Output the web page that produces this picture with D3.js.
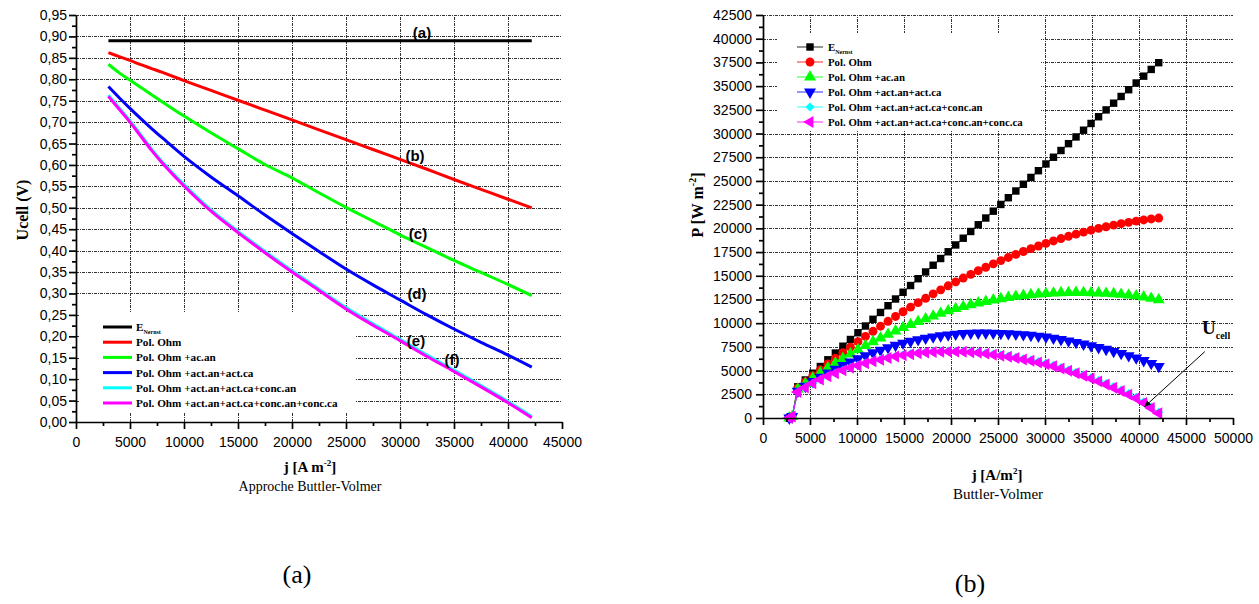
<!DOCTYPE html>
<html lang="fr">
<head>
<meta charset="utf-8">
<title>Ucell et P - approche Buttler-Volmer</title>
<script src="https://cdn.jsdelivr.net/npm/d3@7"></script>
<style>
	body { margin: 0; background: #fff; }
	.axis path,
	.axis line {
		fill: none;
		stroke: #000;
		stroke-width: 1.7;
	}
	.axis text {
		font-family: Arial, "Liberation Sans", sans-serif;
		font-size: 14px;
		fill: #000;
	}
	.grid line {
		stroke: #333;
		stroke-width: 1;
		stroke-dasharray: 3,1,1,1;
		shape-rendering: crispEdges;
	}
	.serif-b { font-family: "Liberation Serif", "Times New Roman", serif; font-weight: bold; }
	.serif { font-family: "Liberation Serif", "Times New Roman", serif; }
</style>
</head>
<body>
<svg id="fig" width="1259" height="604"></svg>
<script>

// ---------- (a) Ucell vs j ----------
var jU = [3000, 4000, 5000, 6000, 7000, 8000, 10000, 12500, 15000, 17500, 20000,
          22500, 25000, 27500, 30000, 32500, 35000, 37500, 40000, 42200];
var uNernst = [0.89, 0.89, 0.89, 0.89, 0.89, 0.89, 0.89, 0.89, 0.89, 0.89, 0.89,
               0.89, 0.89, 0.89, 0.89, 0.89, 0.89, 0.89, 0.89, 0.89];
var uOhm = [0.862, 0.853, 0.844, 0.834, 0.825, 0.816, 0.797, 0.774, 0.751, 0.728, 0.705,
            0.682, 0.659, 0.636, 0.613, 0.590, 0.566, 0.543, 0.520, 0.500];
var uActAn = [0.835, 0.815, 0.798, 0.781, 0.764, 0.747, 0.714, 0.675, 0.638, 0.601, 0.570,
              0.535, 0.501, 0.469, 0.437, 0.407, 0.377, 0.349, 0.321, 0.295];
var uActCa = [0.783, 0.757, 0.732, 0.708, 0.685, 0.663, 0.620, 0.572, 0.528, 0.483, 0.440,
              0.398, 0.357, 0.320, 0.285, 0.250, 0.217, 0.186, 0.156, 0.128];
var uConcAn = [0.763, 0.733, 0.703, 0.670, 0.637, 0.607, 0.554, 0.495, 0.445, 0.398, 0.353,
               0.310, 0.267, 0.229, 0.193, 0.156, 0.121, 0.085, 0.048, 0.013];
var uConcCa = [0.760, 0.730, 0.700, 0.667, 0.634, 0.604, 0.551, 0.492, 0.442, 0.395, 0.350,
               0.307, 0.264, 0.226, 0.190, 0.153, 0.118, 0.082, 0.045, 0.010];

var uTicks = [0, 0.05, 0.10, 0.15, 0.20, 0.25, 0.30, 0.35, 0.40, 0.45, 0.50,
              0.55, 0.60, 0.65, 0.70, 0.75, 0.80, 0.85, 0.90, 0.95];
var jTicksA = [0, 5000, 10000, 15000, 20000, 25000, 30000, 35000, 40000, 45000];
var curveTags = ["(a)", "(b)", "(c)", "(d)", "(e)", "(f)"];

// ---------- (b) P vs j ----------
var jP = [2800, 3100, 3700, 4500, 5300, 6100, 6900, 7700, 8500, 9300, 10100, 10900, 11700,
          12500, 13300, 14100, 14900, 15700, 16500, 17300, 18100, 18900, 19700, 20500,
          21300, 22100, 22900, 23700, 24500, 25300, 26100, 26900, 27700, 28500, 29300,
          30100, 30900, 31700, 32500, 33300, 34100, 34900, 35700, 36500, 37300, 38100,
          38900, 39700, 40500, 41300, 42100];
var pNernst = [0, 150, 3290, 4010, 4720, 5430, 6140, 6850, 7570, 8280, 8990, 9700, 10410,
               11130, 11840, 12550, 13260, 13970, 14690, 15400, 16110, 16820, 17530, 18250,
               18960, 19670, 20380, 21090, 21810, 22520, 23230, 23940, 24650, 25370, 26080,
               26790, 27500, 28210, 28930, 29640, 30350, 31060, 31770, 32490, 33200, 33910,
               34620, 35330, 36050, 36760, 37470];
var pOhm = [0, 150, 3165, 3816, 4456, 5084, 5699, 6303, 6895, 7475, 8044, 8600, 9146,
            9679, 10200, 10709, 11206, 11692, 12166, 12627, 13079, 13517, 13944, 14358,
            14761, 15152, 15531, 15898, 16253, 16599, 16931, 17251, 17559, 17855, 18140,
            18412, 18673, 18925, 19162, 19387, 19601, 19802, 19992, 20170, 20336, 20490,
            20636, 20767, 20886, 20993, 21088];
var pActAn = [0, 150, 3038, 3629, 4203, 4752, 5283, 5790, 6282, 6747, 7195, 7630, 8044,
              8438, 8818, 9183, 9529, 9853, 10161, 10449, 10744, 11030, 11302, 11542,
              11753, 11947, 12128, 12293, 12441, 12579, 12708, 12823, 12919, 13002, 13068,
              13118, 13170, 13206, 13228, 13233, 13224, 13199, 13180, 13147, 13100, 13042,
              12965, 12879, 12762, 12621, 12470];
var pActCa = [0, 150, 2830, 3350, 3841, 4305, 4742, 5156, 5545, 5906, 6243, 6569, 6873,
              7150, 7420, 7668, 7894, 8092, 8267, 8418, 8556, 8673, 8770, 8848,
              8908, 8944, 8963, 8966, 8947, 8921, 8892, 8847, 8786, 8721, 8638,
              8536, 8417, 8280, 8125, 7972, 7806, 7619, 7436, 7242, 7031, 6812,
              6582, 6336, 6059, 5761, 5444];
var pConcAn = [0, 150, 2745, 3232, 3674, 4067, 4418, 4743, 5048, 5325, 5571, 5808, 6013,
               6188, 6371, 6528, 6661, 6779, 6878, 6951, 7008, 7046, 7060, 7061,
               7042, 7003, 6941, 6859, 6753, 6639, 6533, 6405, 6263, 6117, 5951,
               5764, 5553, 5319, 5071, 4822, 4555, 4272, 3970, 3651, 3312, 2956,
               2583, 2191, 1718, 1177, 619];
var pConcCa = [0, 150, 2734, 3218, 3658, 4049, 4397, 4720, 5022, 5297, 5541, 5775, 5978,
               6150, 6331, 6486, 6616, 6732, 6828, 6899, 6954, 6989, 7001, 6999,
               6978, 6937, 6872, 6788, 6679, 6563, 6455, 6324, 6180, 6031, 5863,
               5674, 5460, 5224, 4973, 4722, 4453, 4167, 3863, 3541, 3200, 2842,
               2466, 2072, 1596, 1053, 493];

var pTicks = [0, 2500, 5000, 7500, 10000, 12500, 15000, 17500, 20000, 22500, 25000,
              27500, 30000, 32500, 35000, 37500, 40000, 42500];
var jTicksB = [0, 5000, 10000, 15000, 20000, 25000, 30000, 35000, 40000, 45000, 50000];

var legendNames = ["Pol. Ohm", "Pol. Ohm +ac.an", "Pol. Ohm +act.an+act.ca",
                   "Pol. Ohm +act.an+act.ca+conc.an", "Pol. Ohm +act.an+act.ca+conc.an+conc.ca"];
var colors = ["#000000", "#ff0000", "#00ff00", "#0000ff", "#00ffff", "#ff00ff"];

var svg = d3.select("#fig");

function pairs(xs, ys) {
	return xs.map(function(x, i) { return [x, ys[i]]; });
}

// axis helper: major ticks with labels, minor ticks without
function drawAxes(x, y, xTicks, yTicks, xMinor, yMinor, yFmt, yPad) {
	var y0 = y.range()[0], x0 = x.range()[0];
	svg.append("g").attr("class", "axis")
		.attr("transform", "translate(0," + y0 + ")")
		.call(d3.axisBottom(x).tickValues(xMinor).tickSize(4).tickSizeOuter(0).tickFormat(""))
		.select(".domain").remove();
	svg.append("g").attr("class", "axis")
		.attr("transform", "translate(" + x0 + ",0)")
		.call(d3.axisLeft(y).tickValues(yMinor).tickSize(4).tickSizeOuter(0).tickFormat(""))
		.select(".domain").remove();
	svg.append("g").attr("class", "axis")
		.attr("transform", "translate(0," + y0 + ")")
		.call(d3.axisBottom(x).tickValues(xTicks).tickSize(7).tickSizeOuter(0)
			.tickPadding(8).tickFormat(d3.format("d")));
	svg.append("g").attr("class", "axis")
		.attr("transform", "translate(" + x0 + ",0)")
		.call(d3.axisLeft(y).tickValues(yTicks).tickSize(7).tickSizeOuter(0)
			.tickPadding(yPad).tickFormat(yFmt));
}

function drawGrid(x, y, xLines, yLines) {
	var g = svg.append("g").attr("class", "grid");
	g.selectAll(".h").data(yLines).enter().append("line")
		.attr("x1", x.range()[0]).attr("x2", x.range()[1])
		.attr("y1", function(d) { return Math.round(y(d)) + 0.5; })
		.attr("y2", function(d) { return Math.round(y(d)) + 0.5; });
	g.selectAll(".v").data(xLines).enter().append("line")
		.attr("y1", y.range()[0]).attr("y2", y.range()[1])
		.attr("x1", function(d) { return Math.round(x(d)) + 0.5; })
		.attr("x2", function(d) { return Math.round(x(d)) + 0.5; });
}

function enernst(t, size) {
	t.append("tspan").text("E");
	t.append("tspan").attr("font-size", size).attr("dy", 3).text("Nernst");
}

/* ================= chart (a) ================= */
var xA = d3.scaleLinear().domain([0, 45000]).range([76, 562]);
var yA = d3.scaleLinear().domain([0, 0.95]).range([422, 15]);

drawGrid(xA, yA, jTicksA.slice(1, 9), uTicks.slice(1));

// legend box hides the grid behind it
svg.append("rect").attr("x", 80).attr("y", 312).attr("width", 276).attr("height", 101).attr("fill", "#fff");

var uSeries = [uNernst, uOhm, uActAn, uActCa, uConcAn, uConcCa];
var lineA = d3.line()
	.x(function(d) { return xA(d[0]); })
	.y(function(d) { return yA(d[1]); })
	.curve(d3.curveCatmullRom);

uSeries.forEach(function(s, i) {
	svg.append("path")
		.datum(pairs(jU, s))
		.attr("d", lineA)
		.attr("fill", "none")
		.attr("stroke", colors[i])
		.attr("stroke-width", 3);
});

drawAxes(xA, yA, jTicksA,
	uTicks, [2500, 7500, 12500, 17500, 22500, 27500, 32500, 37500, 42500],
	uTicks.map(function(d) { return d + 0.025; }).slice(0, 19),
	function(d) { return d3.format(".2f")(d).replace(".", ","); }, 2);

// curve tags
var tagPos = [[32040, 0.910], [31390, 0.623], [31670, 0.441], [31570, 0.301], [31480, 0.191], [34810, 0.145]];
svg.selectAll(".tag").data(curveTags).enter().append("text")
	.attr("x", function(d, i) { return xA(tagPos[i][0]); })
	.attr("y", function(d, i) { return yA(tagPos[i][1]); })
	.attr("text-anchor", "middle")
	.attr("dominant-baseline", "central")
	.attr("font-family", "Arial, 'Liberation Sans', sans-serif")
	.attr("font-weight", "bold")
	.attr("font-size", "15px")
	.text(function(d) { return d; });

// legend (a)
var legA = svg.append("g").attr("class", "serif-b").attr("font-size", "11.2px");
colors.forEach(function(c, i) {
	var yy = 327 + i * 15.2;
	legA.append("line").attr("x1", 103).attr("x2", 132).attr("y1", yy).attr("y2", yy)
		.attr("stroke", c).attr("stroke-width", 3);
	var t = legA.append("text").attr("x", 136).attr("y", yy + 4);
	if (i === 0) enernst(t, "6px");
	else t.text(legendNames[i - 1]);
});

// axis titles (a)
svg.append("text").attr("class", "serif-b").attr("font-size", "16px")
	.attr("text-anchor", "middle")
	.attr("transform", "translate(28,210) rotate(-90)")
	.text("Ucell (V)");
var jA = svg.append("text").attr("class", "serif-b").attr("font-size", "15px")
	.attr("text-anchor", "middle").attr("x", 310).attr("y", 472);
jA.append("tspan").text("j [A m");
jA.append("tspan").attr("font-size", "9px").attr("dy", -6).text("-2");
jA.append("tspan").attr("dy", 6).text("]");
svg.append("text").attr("class", "serif").attr("font-size", "14px")
	.attr("text-anchor", "middle").attr("x", 310).attr("y", 491)
	.text("Approche Buttler-Volmer");

/* ================= chart (b) ================= */
var xB = d3.scaleLinear().domain([0, 50000]).range([763, 1233]);
var yB = d3.scaleLinear().domain([0, 42500]).range([418, 15]);

drawGrid(xB, yB, jTicksB.slice(1, 10), pTicks.slice(1));
svg.append("rect").attr("x", 777).attr("y", 33).attr("width", 264).attr("height", 98).attr("fill", "#fff");

var pSeries = [pNernst, pOhm, pActAn, pActCa, pConcAn, pConcCa];
var marks = [
	{ type: d3.symbolSquare, size: 55, rot: 0 },
	{ type: d3.symbolCircle, size: 62, rot: 0 },
	{ type: d3.symbolTriangle, size: 62, rot: 0 },
	{ type: d3.symbolTriangle, size: 62, rot: 180 },
	{ type: d3.symbolSquare, size: 40, rot: 45 },
	{ type: d3.symbolTriangle, size: 62, rot: -90 }
];
var lineB = d3.line()
	.x(function(d) { return xB(d[0]); })
	.y(function(d) { return yB(d[1]); });

pSeries.forEach(function(s, i) {
	var pts = pairs(jP, s);
	svg.append("path").datum(pts).attr("d", lineB)
		.attr("fill", "none").attr("stroke", colors[i]).attr("stroke-width", 1);
	svg.append("g").selectAll("path").data(pts).enter().append("path")
		.attr("d", d3.symbol().type(marks[i].type).size(marks[i].size))
		.attr("transform", function(d) {
			return "translate(" + xB(d[0]) + "," + yB(d[1]) + ") rotate(" + marks[i].rot + ")";
		})
		.attr("fill", colors[i]);
});

drawAxes(xB, yB, jTicksB,
	pTicks, [2500, 7500, 12500, 17500, 22500, 27500, 32500, 37500, 42500, 47500],
	pTicks.map(function(d) { return d + 1250; }).slice(0, 17),
	d3.format("d"), 4);

// legend (b)
var legB = svg.append("g").attr("class", "serif-b").attr("font-size", "10.8px");
colors.forEach(function(c, i) {
	var yy = 47 + i * 15;
	legB.append("line").attr("x1", 797).attr("x2", 823).attr("y1", yy).attr("y2", yy)
		.attr("stroke", c).attr("stroke-width", 1.2).attr("opacity", 0.7);
	legB.append("path")
		.attr("d", d3.symbol().type(marks[i].type).size(marks[i].size))
		.attr("transform", "translate(810," + yy + ") rotate(" + marks[i].rot + ")")
		.attr("fill", c);
	var t = legB.append("text").attr("x", 828).attr("y", yy + 4);
	if (i === 0) enernst(t, "6px");
	else t.text(legendNames[i - 1]);
});

// axis titles (b)
var pLab = svg.append("text").attr("class", "serif-b").attr("font-size", "16px")
	.attr("text-anchor", "middle")
	.attr("transform", "translate(703,205) rotate(-90)");
pLab.append("tspan").text("P [W m");
pLab.append("tspan").attr("font-size", "10px").attr("dy", -7).text("-2");
pLab.append("tspan").attr("dy", 7).text("]");
var jB = svg.append("text").attr("class", "serif-b").attr("font-size", "15px")
	.attr("text-anchor", "middle").attr("x", 997).attr("y", 480);
jB.append("tspan").text("j [A/m");
jB.append("tspan").attr("font-size", "9px").attr("dy", -6).text("2");
jB.append("tspan").attr("dy", 6).text("]");
svg.append("text").attr("class", "serif").attr("font-size", "15px")
	.attr("text-anchor", "middle").attr("x", 998).attr("y", 499)
	.text("Buttler-Volmer");

// Ucell pointer
svg.append("defs").append("marker")
	.attr("id", "head").attr("viewBox", "0 0 10 10").attr("refX", 9).attr("refY", 5)
	.attr("markerWidth", 7).attr("markerHeight", 7).attr("orient", "auto")
	.append("path").attr("d", "M0,1 L10,5 L0,9 Z").attr("fill", "#000");
svg.append("line")
	.attr("x1", xB(47000)).attr("y1", yB(7000))
	.attr("x2", xB(40600)).attr("y2", yB(1200))
	.attr("stroke", "#000").attr("stroke-width", 1).attr("marker-end", "url(#head)");
var uc = svg.append("text").attr("class", "serif-b").attr("x", 1202).attr("y", 334);
uc.append("tspan").attr("font-size", "19px").text("U");
uc.append("tspan").attr("font-size", "10px").attr("dy", 5).text("cell");

// panel captions
svg.append("text").attr("class", "serif").attr("font-size", "26px")
	.attr("text-anchor", "middle").attr("x", 297).attr("y", 583).text("(a)");
svg.append("text").attr("class", "serif").attr("font-size", "26px")
	.attr("text-anchor", "middle").attr("x", 970).attr("y", 592).text("(b)");

</script>
</body>
</html>
